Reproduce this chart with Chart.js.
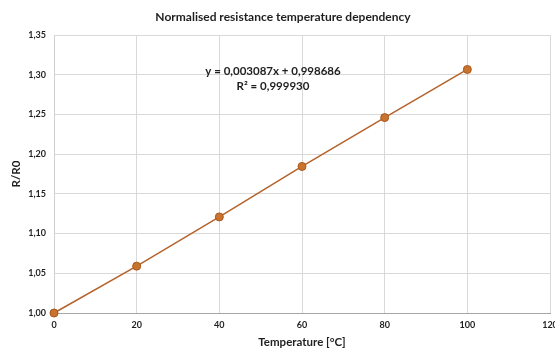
<!DOCTYPE html>
<html>
<head>
<meta charset="utf-8">
<script src="https://cdn.jsdelivr.net/npm/chart.js@4"></script>
<style>
html,body{margin:0;padding:0;background:#fff;}
#wrap{width:555px;height:348px;position:relative;}
</style>
</head>
<body>
<div id="wrap"><canvas id="c" width="555" height="348"></canvas></div>
<script>
const chartTitle = "Normalised resistance temperature dependency";
const temperatures = [0, 20, 40, 60, 80, 100];
const ratios = [1.000, 1.059, 1.121, 1.1845, 1.246, 1.3066];
const equationLines = ["y = 0,003087x + 0,998686", "R\u00B2 = 0,999930"];
const xTitle = "Temperature [\u00B0C]";
const yTitle = "R/R0";

const FONT = "Lato, 'Open Sans', 'DejaVu Sans', sans-serif";
const TEXT = "#1f1f1f";

const overlay = {
  id: 'overlay',
  afterDraw(chart) {
    const ctx = chart.ctx;
    ctx.save();
    ctx.fillStyle = TEXT;
    ctx.textAlign = 'center';
    ctx.textBaseline = 'middle';
    ctx.font = "bold 12px " + FONT;
    ctx.fillText(chartTitle, 283, 17);
    ctx.font = "bold 11.5px " + FONT;
    ctx.fillText(equationLines[0], 273, 71);
    ctx.fillText(equationLines[1], 273, 86);
    ctx.restore();
  }
};

new Chart(document.getElementById('c'), {
  type: 'line',
  data: {
    datasets: [{
      data: temperatures.map((t, i) => ({x: t, y: ratios[i]})),
      borderColor: '#b5622a',
      borderWidth: 1.5,
      backgroundColor: '#c8742f',
      pointBackgroundColor: '#c8742f',
      pointBorderColor: '#a9571c',
      pointBorderWidth: 1,
      pointRadius: 4,
      tension: 0,
      fill: false,
      clip: false
    }]
  },
  plugins: [overlay],
  options: {
    responsive: false,
    animation: false,
    devicePixelRatio: 1,
    layout: {padding: {top: 35, right: 5, left: 0, bottom: 0}},
    plugins: {legend: {display: false}, tooltip: {enabled: false}, title: {display: false}},
    scales: {
      x: {
        type: 'linear',
        min: 0, max: 120,
        ticks: {stepSize: 20, color: TEXT, font: {family: FONT, size: 9, weight: 'bold'}, padding: 7, maxRotation: 0},
        grid: {color: '#d9d9d9', drawTicks: false, lineWidth: 1},
        border: {color: '#a6a6a6', width: 1},
        title: {display: true, text: xTitle, color: TEXT, font: {family: FONT, size: 11.5, weight: 'bold', lineHeight: 1}, padding: {top: 0, bottom: 0}},
        afterFit(scale) { scale.height = 35; scale.paddingLeft = 0; scale.paddingRight = 0; }
      },
      y: {
        min: 1.0, max: 1.35,
        ticks: {stepSize: 0.05, color: TEXT, font: {family: FONT, size: 9, weight: 'bold'}, padding: 8,
          callback: v => v.toFixed(2).replace('.', ',')},
        grid: {color: '#d9d9d9', drawTicks: false, lineWidth: 1},
        border: {color: '#d0d0d0', width: 1},
        title: {display: true, text: yTitle, color: TEXT, font: {family: FONT, size: 11.5, weight: 'bold', lineHeight: 1.2}, padding: {top: 9, bottom: 0}},
        afterFit(scale) { scale.width = 54; scale.paddingTop = 0; scale.paddingBottom = 0; }
      }
    }
  }
});
</script>
</body>
</html>
